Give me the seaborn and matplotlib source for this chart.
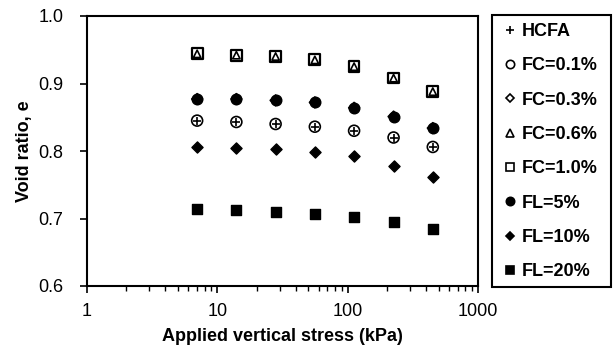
import numpy as np
import pandas as pd
import matplotlib
matplotlib.use("Agg")
import matplotlib.pyplot as plt
import seaborn as sns
from matplotlib.lines import Line2D
from matplotlib.patches import Rectangle

# ---- data ----
stress = [7, 14, 28, 56, 112, 225, 450]
hcfa = [0.845, 0.843, 0.840, 0.836, 0.830, 0.820, 0.806]
fc01 = [0.845, 0.843, 0.840, 0.836, 0.830, 0.820, 0.806]
fc03 = [0.877, 0.877, 0.875, 0.872, 0.864, 0.851, 0.834]
fc06 = [0.944, 0.942, 0.940, 0.935, 0.925, 0.908, 0.888]
fc10 = [0.944, 0.942, 0.940, 0.935, 0.925, 0.908, 0.888]
fl5 = [0.877, 0.877, 0.875, 0.872, 0.864, 0.851, 0.834]
fl10 = [0.806, 0.805, 0.803, 0.799, 0.792, 0.778, 0.761]
fl20 = [0.714, 0.713, 0.710, 0.707, 0.702, 0.695, 0.684]

labels = ["HCFA", "FC=0.1%", "FC=0.3%", "FC=0.6%", "FC=1.0%", "FL=5%", "FL=10%", "FL=20%"]
series = [hcfa, fc01, fc03, fc06, fc10, fl5, fl10, fl20]

sns.set_theme(style="white")
plt.rcParams['font.family'] = ['Liberation Sans', 'DejaVu Sans']

fig = plt.figure(figsize=(6.14, 3.45), dpi=100)
ax = fig.add_axes([87/614, 59/345, (478-87)/614, (286-16)/345])

# marker specs: (marker, filled, size, linewidth)
specs = {
    "FC=1.0%": ("s", False, 60, 1.6),
    "FC=0.6%": ("^", False, 28, 1.2),
    "FC=0.3%": ("D", False, 30, 1.2),
    "FL=5%": ("o", True, 58, 1.0),
    "FC=0.1%": ("o", False, 62, 1.2),
    "HCFA": ("+", True, 40, 1.2),
    "FL=10%": ("D", True, 32, 1.0),
    "FL=20%": ("s", True, 52, 1.0),
}
order = ["FC=1.0%", "FC=0.6%", "FC=0.3%", "FL=5%", "FC=0.1%", "HCFA", "FL=10%", "FL=20%"]
data = dict(zip(labels, series))

for lab in order:
    m, filled, s, lw = specs[lab]
    df = pd.DataFrame({"x": stress, "y": data[lab]})
    sns.scatterplot(data=df, x="x", y="y", ax=ax, marker=m, s=s,
                    color="black", edgecolor="black", linewidth=lw, legend=False)
    coll = ax.collections[-1]
    if not filled:
        coll.set_facecolor("none")
    coll.set_edgecolor("black")
    coll.set_linewidth(lw)

ax.set_xscale("log")
ax.set_xlim(1, 1000)
ax.set_ylim(0.6, 1.0)
ax.set_yticks([0.6, 0.7, 0.8, 0.9, 1.0])
ax.set_yticklabels(["0.6", "0.7", "0.8", "0.9", "1.0"])
ax.set_xticks([1, 10, 100, 1000])
ax.set_xticklabels(["1", "10", "100", "1000"])
ax.tick_params(axis="both", which="major", direction="out", length=5, width=1.2,
               color="black", labelsize=13, labelcolor="black")
ax.tick_params(axis="y", pad=12, left=True)
ax.tick_params(axis="x", which="major", pad=7, bottom=True)
ax.tick_params(axis="x", which="minor", direction="out", length=3.5, width=1.0,
               bottom=True, color="black")
for sp in ax.spines.values():
    sp.set_color("black")
    sp.set_linewidth(1.5)
    sp.set_visible(True)

ax.set_xlabel("Applied vertical stress (kPa)", fontsize=13, fontweight="bold",
              labelpad=6, color="black")
ax.set_ylabel("Void ratio, e", fontsize=13, fontweight="bold", labelpad=4,
              color="black")

# legend
leg_specs = [("+", True), ("o", False), ("D", False), ("^", False), ("s", False),
             ("o", True), ("D", True), ("s", True)]
handles = []
for (m, filled), lab in zip(leg_specs, labels):
    ms = 6 if m not in ("D",) else 4.5
    handles.append(Line2D([], [], linestyle="none", marker=m, markersize=ms,
                          markerfacecolor="black" if filled else "none",
                          markeredgecolor="black", markeredgewidth=1.2, label=lab))

fig.patches.append(Rectangle((492/614, 58/345), (611-492)/614, (287-15)/345,
                             transform=fig.transFigure, fill=False,
                             edgecolor="black", linewidth=1.5))
leg = fig.legend(handles=handles, loc="upper left",
                 bbox_to_anchor=(504/614, 1 - 23/345), frameon=False,
                 prop={"size": 13, "weight": "bold"}, labelspacing=0.96,
                 handlelength=0.7, handletextpad=0.3, borderpad=0, borderaxespad=0,
                 labelcolor="black")

fig.savefig("out.png", dpi=100, facecolor="white")
